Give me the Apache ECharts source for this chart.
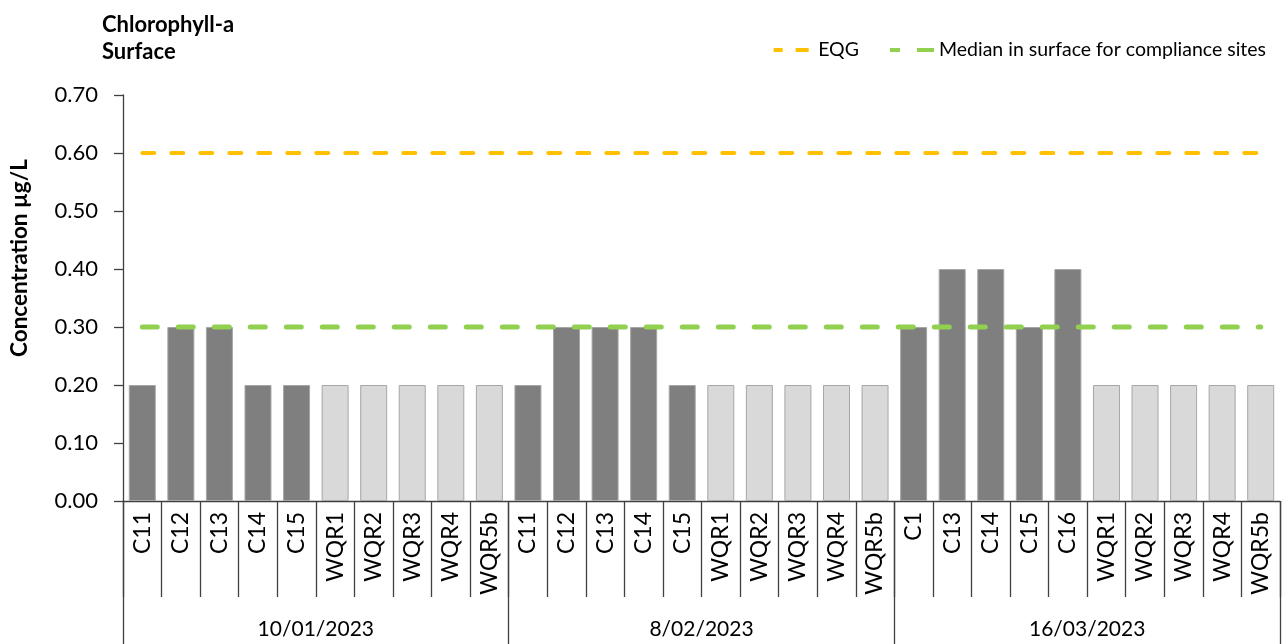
<!DOCTYPE html>
<html>
<head>
<meta charset="utf-8">
<script src="https://cdn.jsdelivr.net/npm/echarts@6/dist/echarts.min.js"></script>
<style>
  html, body { margin: 0; padding: 0; background: #fff; }
  #chart { width: 1282px; height: 644px; }
</style>
</head>
<body>
<div id="chart"></div>
<script>
// Sampling dates (one group of ten sites each)
const dates = ['10/01/2023', '8/02/2023', '16/03/2023'];

// Sites sampled on each date
const sitesJan = ['C11', 'C12', 'C13', 'C14', 'C15', 'WQR1', 'WQR2', 'WQR3', 'WQR4', 'WQR5b'];
const sitesFeb = ['C11', 'C12', 'C13', 'C14', 'C15', 'WQR1', 'WQR2', 'WQR3', 'WQR4', 'WQR5b'];
const sitesMar = ['C1', 'C13', 'C14', 'C15', 'C16', 'WQR1', 'WQR2', 'WQR3', 'WQR4', 'WQR5b'];

// Surface chlorophyll-a concentration (µg/L)
const valuesJan = [0.2, 0.3, 0.3, 0.2, 0.2, 0.2, 0.2, 0.2, 0.2, 0.2];
const valuesFeb = [0.2, 0.3, 0.3, 0.3, 0.2, 0.2, 0.2, 0.2, 0.2, 0.2];
const valuesMar = [0.3, 0.4, 0.4, 0.3, 0.4, 0.2, 0.2, 0.2, 0.2, 0.2];

// Reference levels
const eqgValue = 0.6;
const medianValue = 0.3;

const sites = sitesJan.concat(sitesFeb, sitesMar);
const values = valuesJan.concat(valuesFeb, valuesMar);
const eqgLine = sites.map(() => eqgValue);
const medianLine = sites.map(() => medianValue);

const FONT = 'Lato, "Open Sans", sans-serif';
const AXIS = '#404040';
const EQG_COLOR = '#ffc000';
const MEDIAN_COLOR = '#92d050';

const chart = echarts.init(document.getElementById('chart'), null, { renderer: 'canvas' });
chart.setOption({
  animation: false,
  backgroundColor: '#ffffff',
  textStyle: { fontFamily: FONT, color: '#000' },
  title: {
    text: 'Chlorophyll-a\nSurface',
    left: 97,
    top: 6,
    textStyle: { fontFamily: FONT, fontSize: 22, fontWeight: 'bold', lineHeight: 27, color: '#000' }
  },
  legend: {
    right: 11,
    top: 35,
    itemWidth: 44,
    itemHeight: 4,
    itemGap: 31,
    textStyle: { fontFamily: FONT, fontSize: 19.5, color: '#000' },
    data: [
      { name: 'EQG', icon: 'path://M0,0h9v4h-9z M22,0h13v4h-13z', itemStyle: { color: EQG_COLOR } },
      { name: 'Median in surface for compliance sites', icon: 'path://M0,0h10v4h-10z M27,0h17v4h-17z', itemStyle: { color: MEDIAN_COLOR } }
    ]
  },
  grid: { left: 122, right: 2, top: 95, bottom: 143, containLabel: false },
  xAxis: [
    {
      type: 'category',
      data: sites,
      position: 'bottom',
      axisLine: { show: true, lineStyle: { color: AXIS, width: 1.3 } },
      axisTick: { show: true, interval: 0, length: 96, lineStyle: { color: AXIS, width: 1.3 } },
      axisLabel: { interval: 0, rotate: 90, margin: 11, fontSize: 23, color: '#000', fontFamily: FONT }
    },
    {
      type: 'category',
      data: dates,
      position: 'bottom',
      axisLine: { show: false },
      axisTick: { show: true, interval: 0, length: 143, lineStyle: { color: AXIS, width: 1.3 } },
      axisLabel: { interval: 0, margin: 118, fontSize: 21, color: '#000', fontFamily: FONT }
    }
  ],
  yAxis: {
    type: 'value',
    min: 0,
    max: 0.7,
    interval: 0.1,
    name: 'Concentration µg/L',
    nameLocation: 'middle',
    nameGap: 92,
    nameTextStyle: { fontFamily: FONT, fontSize: 22.5, fontWeight: 'bold', color: '#000', padding: [0, 0, 0, 80] },
    axisLine: { show: true, lineStyle: { color: AXIS, width: 1.3 } },
    axisTick: { show: true, length: 9, lineStyle: { color: AXIS, width: 1.3 } },
    splitLine: { show: false },
    axisLabel: { margin: 25, fontSize: 22, color: '#000', fontFamily: FONT, formatter: v => v.toFixed(2) }
  },
  series: [
    {
      name: 'Concentration',
      type: 'bar',
      data: values,
      barCategoryGap: '30%',
      itemStyle: {
        color: p => (sites[p.dataIndex].startsWith('WQR') ? '#d9d9d9' : '#7f7f7f'),
        borderColor: '#a6a6a6',
        borderWidth: 1
      }
    },
    {
      name: 'EQG',
      type: 'line',
      data: eqgLine,
      symbol: 'none',
      z: 3,
      lineStyle: { color: EQG_COLOR, width: 4, type: [12, 17], cap: 'round' },
      itemStyle: { color: EQG_COLOR }
    },
    {
      name: 'Median in surface for compliance sites',
      type: 'line',
      data: medianLine,
      symbol: 'none',
      z: 3,
      lineStyle: { color: MEDIAN_COLOR, width: 5, type: [15, 21], cap: 'round' },
      itemStyle: { color: MEDIAN_COLOR }
    }
  ]
});
</script>
</body>
</html>
